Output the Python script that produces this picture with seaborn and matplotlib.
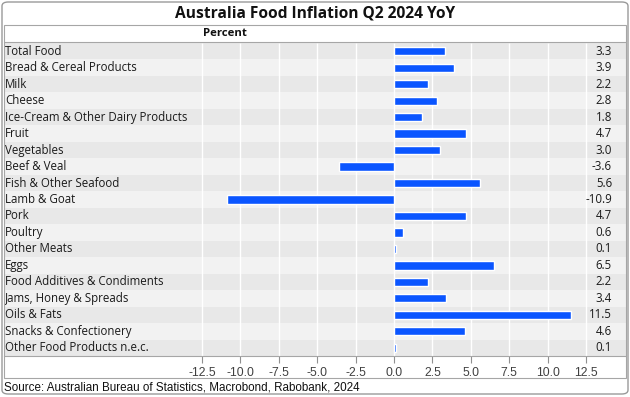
import matplotlib
matplotlib.use("Agg")
import matplotlib.pyplot as plt
import matplotlib.patches as mpatches
import matplotlib.transforms as mtransforms
import seaborn as sns

# ── Datos ────────────────────────────────────────────────────────────────────
categories = [
    "Total Food", "Bread & Cereal Products", "Milk", "Cheese",
    "Ice-Cream & Other Dairy Products", "Fruit", "Vegetables", "Beef & Veal",
    "Fish & Other Seafood", "Lamb & Goat", "Pork", "Poultry", "Other Meats",
    "Eggs", "Food Additives & Condiments", "Jams, Honey & Spreads",
    "Oils & Fats", "Snacks & Confectionery", "Other Food Products n.e.c.",
]
values = [3.3, 3.9, 2.2, 2.8, 1.8, 4.7, 3.0, -3.6, 5.6, -10.9,
          4.7, 0.6, 0.1, 6.5, 2.2, 3.4, 11.5, 4.6, 0.1]
tick_values = [-12.5, -10.0, -7.5, -5.0, -2.5, 0.0, 2.5, 5.0, 7.5, 10.0, 12.5]

title = "Australia Food Inflation Q2 2024 YoY"
unit_label = "Percent"
source = "Source: Australian Bureau of Statistics, Macrobond, Rabobank, 2024"

# ── Estilo ───────────────────────────────────────────────────────────────────
sns.set_style("white")
plt.rcParams["font.family"] = ["Open Sans", "DejaVu Sans"]
BAR_COLOR = "#0a55ff"
ROW_DARK = "#e8e8e8"
ROW_LIGHT = "#f2f2f2"
BORDER = "#a6a6a6"

W, H = 630, 397
fig = plt.figure(figsize=(W / 100, H / 100), dpi=100)

# píxeles → fracción de figura
def fx(px):
    return px / W

def fy(px):
    return 1 - px / H

tab_left, tab_right = 4, 626
rows_top, rows_bottom = 43, 356
ax = fig.add_axes([fx(tab_left), fy(rows_bottom),
                   fx(tab_right) - fx(tab_left), fy(rows_top) - fy(rows_bottom)])

sns.barplot(x=values, y=categories, orient="h", color=BAR_COLOR,
            width=0.5, saturation=1, ax=ax, zorder=3)

n = len(categories)
for i in range(n):
    ax.axhspan(i - 0.5, i + 0.5, color=ROW_DARK if i % 2 == 0 else ROW_LIGHT,
               lw=0, zorder=0)

# escala: -12.5 en x=202 px, 12.5 en x=586 px
ppu = (586 - 202) / 25
ax.set_xlim(-12.5 - (202 - tab_left) / ppu, 12.5 + (tab_right - 586) / ppu)
ax.set_ylim(n - 0.5, -0.5)
ax.vlines(tick_values, -0.5, n - 0.5, color="white", lw=1, zorder=1)

ax.set_xticks(tick_values)
ax.set_xticklabels([f"{t:.1f}" for t in tick_values], fontsize=8.8,
                   color="#404040", family=["Liberation Sans Narrow", "Liberation Sans"])
ax.tick_params(axis="x", direction="out", length=5, width=0.8,
               color="#909090", pad=3, bottom=True)
ax.set_yticks([])
ax.set_ylabel("")
ax.set_xlabel("")
for side in ["top", "left", "right"]:
    ax.spines[side].set_visible(False)
ax.spines["bottom"].set_color(BORDER)
ax.spines["bottom"].set_linewidth(0.8)

trans = mtransforms.blended_transform_factory(ax.transAxes, ax.transData)
val_x = (612 - tab_left) / (tab_right - tab_left)
for i, (cat, v) in enumerate(zip(categories, values)):
    ax.text(0.002, i, cat, transform=trans, ha="left", va="center",
            fontsize=8.3, color="#1a1a1a")
    ax.text(val_x, i, f"{v:.1f}", transform=trans, ha="right", va="center",
            fontsize=8.3, color="#1a1a1a")

# ── Marcos, título y textos ──────────────────────────────────────────────────
fig.patches.append(mpatches.FancyBboxPatch(
    (fx(2), fy(394)), fx(626), fy(2) - fy(394),
    boxstyle="round,pad=0,rounding_size=0.01", transform=fig.transFigure,
    fill=False, edgecolor="#9a9a9a", lw=1))
fig.patches.append(mpatches.Rectangle(
    (fx(tab_left), fy(378)), fx(tab_right) - fx(tab_left), fy(25) - fy(378),
    transform=fig.transFigure, fill=False, edgecolor=BORDER, lw=0.8))
fig.lines.append(plt.Line2D([fx(tab_left), fx(tab_right)], [fy(42), fy(42)],
                            transform=fig.transFigure, color=BORDER, lw=0.8))

fig.text(0.5, fy(13), title, ha="center", va="center",
         fontsize=11.2, fontweight="bold", color="#111111")
fig.text(fx(225), fy(33), unit_label, ha="center", va="center",
         fontsize=8.2, fontweight="bold", color="#111111")
fig.text(fx(4), fy(387), source, ha="left", va="center", fontsize=8.4,
         color="#111111", family=["Liberation Sans"])

fig.savefig("out.png", dpi=100)
